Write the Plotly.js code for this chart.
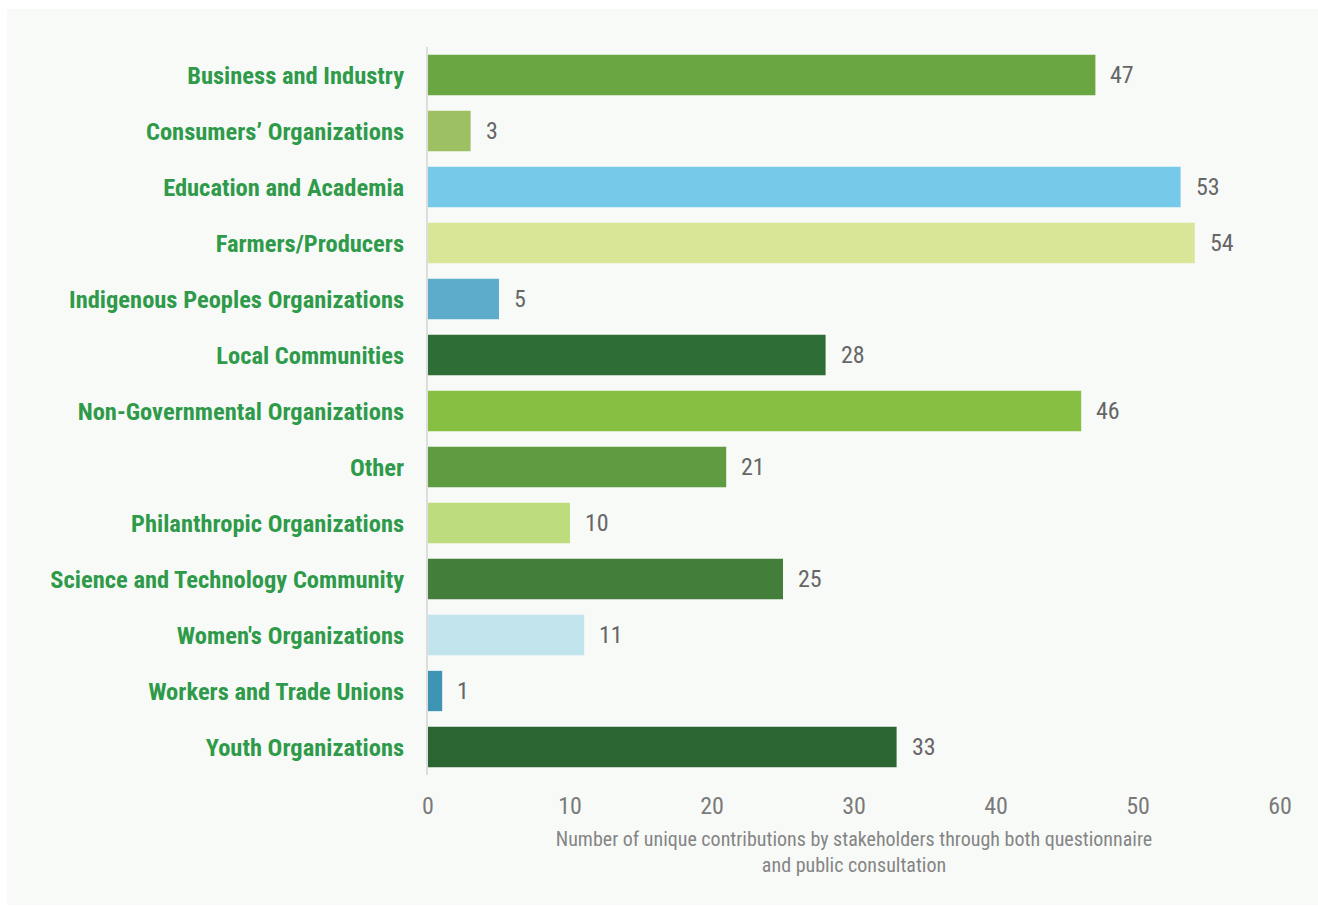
<!DOCTYPE html>
<html>
<head>
<meta charset="utf-8">
<script src="https://cdn.plot.ly/plotly-3.0.1.min.js"></script>
<style>
html,body{margin:0;padding:0;background:#ffffff;width:1318px;height:908px;overflow:hidden;}
#chart{position:absolute;left:7px;top:9px;width:1311px;height:896px;}
</style>
</head>
<body>
<div id="chart"></div>
<script>
const categories = [
  "Business and Industry",
  "Consumers’ Organizations",
  "Education and Academia",
  "Farmers/Producers",
  "Indigenous Peoples Organizations",
  "Local Communities",
  "Non-Governmental Organizations",
  "Other",
  "Philanthropic Organizations",
  "Science and Technology Community",
  "Women's Organizations",
  "Workers and Trade Unions",
  "Youth Organizations"
];
const values = [47, 3, 53, 54, 5, 28, 46, 21, 10, 25, 11, 1, 33];
const barColors = [
  "#6aa642", "#9dc063", "#76c9e8", "#d9e697", "#5eaccc", "#2e6e36",
  "#86bf42", "#5f9b40", "#bddc7e", "#437e3a", "#c2e4ec", "#3d94b4", "#2b6632"
];
const tickValues = [0, 10, 20, 30, 40, 50, 60];
const axisTitle = "Number of unique contributions by stakeholders through both questionnaire<br>and public consultation";

const condFont = "'Roboto Condensed', 'Liberation Sans Narrow', 'Arial Narrow', Roboto, sans-serif";

const trace = {
  type: "bar",
  orientation: "h",
  x: values,
  y: categories,
  marker: {color: barColors},
  hoverinfo: "x+y"
};

const annotations = categories.map((c, i) => ({
  x: values[i], y: c, xref: "x", yref: "y",
  text: String(values[i]), showarrow: false,
  xanchor: "left", yanchor: "middle", xshift: 13,
  font: {family: condFont, size: 24, color: "#666666"}
}));

const layout = {
  width: 1311, height: 896,
  paper_bgcolor: "#f8faf8",
  plot_bgcolor: "#f8faf8",
  margin: {l: 421, r: 38, t: 38, b: 130},
  bargap: 0.28,
  showlegend: false,
  font: {family: condFont},
  xaxis: {
    range: [0, 60],
    tickvals: tickValues,
    ticktext: tickValues.map(String),
    showgrid: false,
    zeroline: false,
    showline: false,
    ticks: "outside", ticklen: 9, tickcolor: "rgba(0,0,0,0)",
    tickfont: {family: condFont, size: 24, color: "#7a7a7a"},
    title: {text: axisTitle, font: {family: condFont, size: 20, color: "#858585"}, standoff: 13}
  },
  yaxis: {
    categoryorder: "array",
    categoryarray: categories,
    autorange: "reversed",
    showgrid: false,
    zeroline: false,
    showline: true, linecolor: "#dddddd", linewidth: 2,
    ticks: "outside", ticklen: 17, tickcolor: "rgba(0,0,0,0)",
    tickfont: {family: condFont, size: 24.5, color: "#2e9a4a", weight: "bold"}
  },
  annotations: annotations
};

Plotly.newPlot("chart", [trace], layout, {displayModeBar: false, staticPlot: true});
</script>
</body>
</html>
